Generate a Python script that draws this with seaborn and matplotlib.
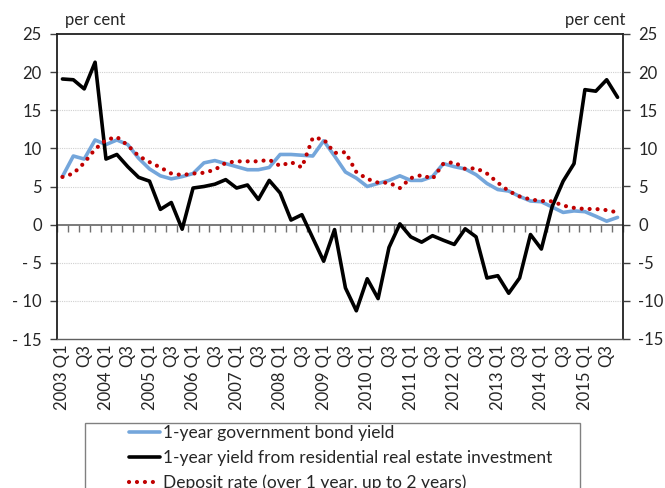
import numpy as np
import pandas as pd
import seaborn as sns
import matplotlib.pyplot as plt
from matplotlib.patches import Rectangle

sns.set_style("white")
plt.rcParams["font.family"] = ["Lato", "DejaVu Sans"]

# quarters 2003 Q1 .. 2015 Q4
quarters = [f"{y} Q{q}" for y in range(2003, 2016) for q in range(1, 5)]

bond_yield = [6.3, 9.0, 8.6, 11.1, 10.5, 11.1, 10.5, 8.7, 7.3, 6.4,
              6.0, 6.3, 6.7, 8.1, 8.4, 8.0, 7.6, 7.2, 7.2, 7.5,
              9.2, 9.2, 9.1, 9.0, 11.0, 9.0, 6.9, 6.1, 5.0, 5.4,
              5.8, 6.4, 5.8, 5.8, 6.3, 8.0, 7.6, 7.3, 6.55, 5.4,
              4.6, 4.4, 3.7, 3.1, 3.0, 2.3, 1.6, 1.8, 1.7, 1.1,
              0.45, 0.95]

real_estate_yield = [19.1, 19.0, 17.8, 21.3, 8.6, 9.2, 7.6, 6.2, 5.7, 2.0,
                     2.9, -0.6, 4.8, 5.0, 5.3, 5.9, 4.8, 5.2, 3.3, 5.8,
                     4.15, 0.6, 1.3, -1.75, -4.8, -0.65, -8.3, -11.3, -7.1, -9.7,
                     -3.0, 0.1, -1.6, -2.3, -1.45, -2.05, -2.6, -0.55, -1.6, -7.0,
                     -6.7, -9.0, -7.0, -1.3, -3.2, 2.4, 5.7, 8.0, 17.7, 17.5,
                     19.0, 16.7]

deposit_rate = [6.25, 6.7, 8.1, 9.9, 11.1, 11.5, 10.4, 9.0, 8.2, 7.5,
                6.7, 6.5, 6.7, 6.8, 7.2, 8.1, 8.3, 8.3, 8.3, 8.5,
                7.7, 8.2, 7.5, 11.4, 11.2, 9.4, 9.5, 6.9, 6.0, 5.5,
                5.5, 4.8, 6.1, 6.5, 6.0, 8.0, 8.2, 7.3, 7.4, 6.7,
                5.5, 4.4, 3.7, 3.3, 3.1, 3.05, 2.5, 2.2, 2.05, 2.05,
                1.9, 1.6]

tick_labels = [q if q.endswith("Q1") else "Q3" for q in quarters if q[-1] in "13"]
y_ticks = [-15, -10, -5, 0, 5, 10, 15, 20, 25]
left_labels = ["- 15", "- 10", "- 5", "0", "5", "10", "15", "20", "25"]
right_labels = ["-15", "-10", "-5", "0", "5", "10", "15", "20", "25"]

df = pd.DataFrame({
    "quarter": quarters,
    "bond": bond_yield,
    "estate": real_estate_yield,
    "deposit": deposit_rate,
})

fig = plt.figure(figsize=(6.65, 4.88), dpi=100)
ax = fig.add_axes([57 / 665, 1 - 339 / 488, 566 / 665, 305 / 488])

sns.lineplot(data=df, x="quarter", y="bond", ax=ax, color="#74A6DB", lw=2.6,
             sort=False, label="1-year government bond yield")
sns.lineplot(data=df, x="quarter", y="estate", ax=ax, color="black", lw=2.6,
             sort=False, label="1-year yield from residential real estate investment")
sns.lineplot(data=df, x="quarter", y="deposit", ax=ax, color="#C00000", lw=3.0,
             sort=False, linestyle=(0, (0.01, 1.9)), dash_capstyle="round",
             label="Deposit rate (over 1 year, up to 2 years)")

n = len(quarters)
ax.set_xlim(-0.5, n - 0.5)
ax.set_ylim(-15, 25)
ax.set_xlabel("")
ax.set_ylabel("")

# grid
for v in [-10, -5, 5, 10, 15, 20]:
    ax.axhline(v, color="#D0D0D0", lw=0.8, ls=(0, (1, 1)), zorder=0)

ax.set_xticks(range(0, n, 2))
ax.set_xticklabels(tick_labels, rotation=90, fontsize=12)
ax.tick_params(axis="x", length=0, pad=4)

ax.set_yticks(y_ticks)
ax.set_yticklabels(left_labels, fontsize=12)
ax.tick_params(axis="y", direction="out", length=5, width=1, color="#404040",
               left=True, right=True, labelright=False, pad=6)

for side in ["left", "right", "top"]:
    ax.spines[side].set_color("#202020")
    ax.spines[side].set_linewidth(1.3)
ax.spines["bottom"].set_color("#606060")
ax.spines["bottom"].set_linewidth(1.0)

# zero line with category ticks
zero_ax = ax.secondary_xaxis(15 / 40)
zero_ax.set_xticks(np.arange(-0.5, n, 1.0))
zero_ax.set_xticklabels([])
zero_ax.tick_params(axis="x", direction="out", length=5, width=1, color="#707070")
zero_ax.spines["bottom"].set_color("#707070")
zero_ax.spines["bottom"].set_linewidth(1.3)

# right axis labels
rax = ax.twinx()
rax.set_ylim(-15, 25)
rax.set_yticks(y_ticks)
rax.set_yticklabels(right_labels, fontsize=12)
rax.tick_params(axis="y", direction="out", length=5, width=1, color="#404040", pad=6)
for s in rax.spines.values():
    s.set_visible(False)

fig.text(65 / 665, 1 - 20 / 488, "per cent", fontsize=12, ha="left", va="center")
fig.text(625 / 665, 1 - 20 / 488, "per cent", fontsize=12, ha="right", va="center")

handles, labels = ax.get_legend_handles_labels()
ax.get_legend().remove()
fig.legend(handles, labels, loc="upper left", bbox_to_anchor=(129 / 665, 1 - 425 / 488),
           frameon=False, fontsize=12.5, handlelength=1.8, handletextpad=0.15,
           labelspacing=0.5, borderpad=0, borderaxespad=0)
fig.add_artist(Rectangle((85 / 665, -0.1), 495 / 665, 0.1 + 1 - 423 / 488,
                         transform=fig.transFigure, fill=False,
                         edgecolor="#808080", lw=1))

fig.savefig("out.png", dpi=100)
